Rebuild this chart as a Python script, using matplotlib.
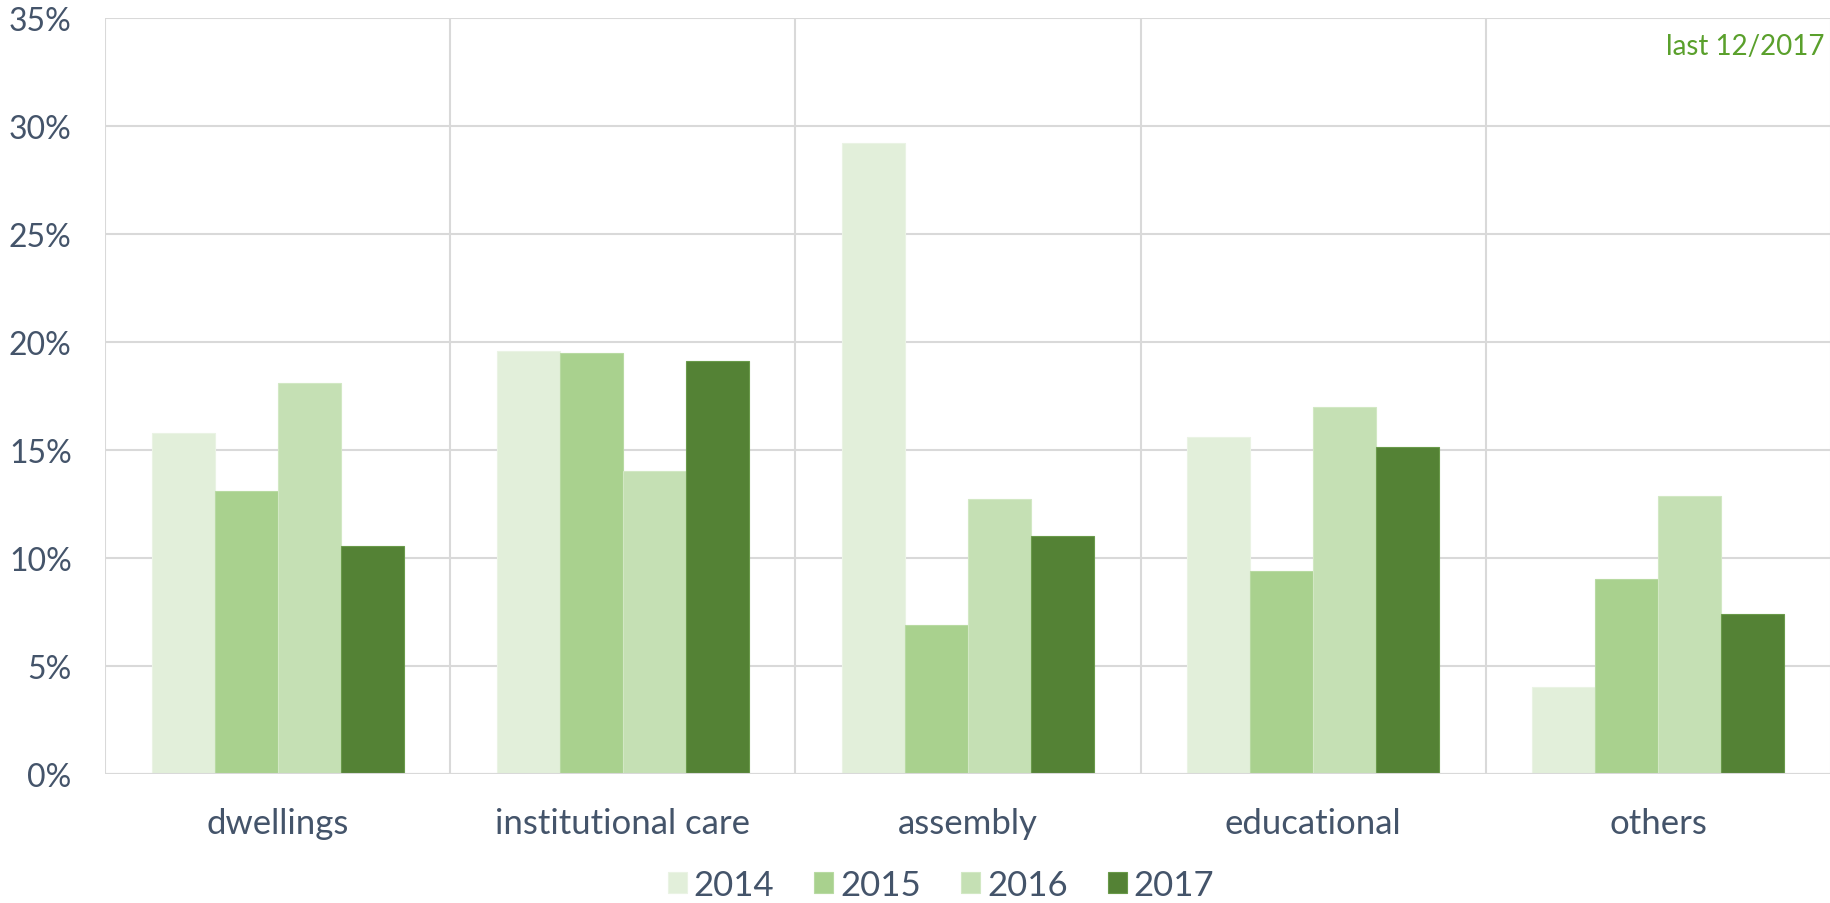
import matplotlib
matplotlib.use("Agg")
import matplotlib.pyplot as plt
import numpy as np
from matplotlib.ticker import FuncFormatter

plt.rcParams['font.family'] = ['Lato', 'DejaVu Sans']

categories = ["dwellings", "institutional care", "assembly", "educational", "others"]
years = ["2014", "2015", "2016", "2017"]
v2014 = [15.8, 19.6, 29.2, 15.6, 4.05]
v2015 = [13.1, 19.5, 6.9, 9.4, 9.05]
v2016 = [18.1, 14.05, 12.75, 17.0, 12.85]
v2017 = [10.55, 19.1, 11.0, 15.15, 7.4]
series = [v2014, v2015, v2016, v2017]
colors = ["#E2EFDA", "#A9D18E", "#C5E0B4", "#548235"]
edgecolors = ["#EAF3E4", "#B8DAA2", "#D2E8C4", "#6A9A4A"]
yticks = [0, 5, 10, 15, 20, 25, 30, 35]
note = "last 12/2017"

W, H = 1831, 904
fig = plt.figure(figsize=(W / 100, H / 100), dpi=100)
ax = fig.add_axes([105 / W, 1 - 775 / H, (W - 105) / W, (775 - 19) / H])

x = np.arange(len(categories))
bw = 0.1825
for i, (vals, c, ec) in enumerate(zip(series, colors, edgecolors)):
    ax.bar(x + (i - 1.5) * bw, vals, width=bw, color=c, edgecolor=ec,
           linewidth=0.8, label=years[i], zorder=3)

ax.set_xlim(-0.5, len(categories) - 0.5)
ax.set_ylim(0, 35)
ax.set_yticks(yticks)
ax.yaxis.set_major_formatter(FuncFormatter(lambda v, p: f"{v:.0f}%"))
ax.set_xticks(x)
ax.set_xticklabels(categories)

grid_c = "#D9D9D9"
ax.grid(axis='y', color=grid_c, linewidth=1.5, zorder=0)
for b in np.arange(-0.5, len(categories), 1.0):
    ax.axvline(b, color=grid_c, linewidth=1.5, zorder=0)
for s in ax.spines.values():
    s.set_visible(False)
ax.axhline(0, color=grid_c, linewidth=1.5, zorder=4)

txt_c = "#44546A"
ax.tick_params(axis='y', length=0, pad=24, labelsize=23, labelcolor=txt_c)
ax.tick_params(axis='x', length=0, pad=24, labelsize=25, labelcolor=txt_c)

ax.text(len(categories) - 0.5 - 0.02, 33.7, note,
        ha='right', va='center', fontsize=20, color="#5AA02C")

leg = fig.legend(loc='center', bbox_to_anchor=(941 / W, 1 - 886 / H), ncol=4,
                 frameon=False, fontsize=25, handlelength=0.55, handleheight=0.55,
                 handletextpad=0.2, columnspacing=1.15, labelcolor=txt_c)

fig.savefig("out.png", dpi=100, facecolor="white")
